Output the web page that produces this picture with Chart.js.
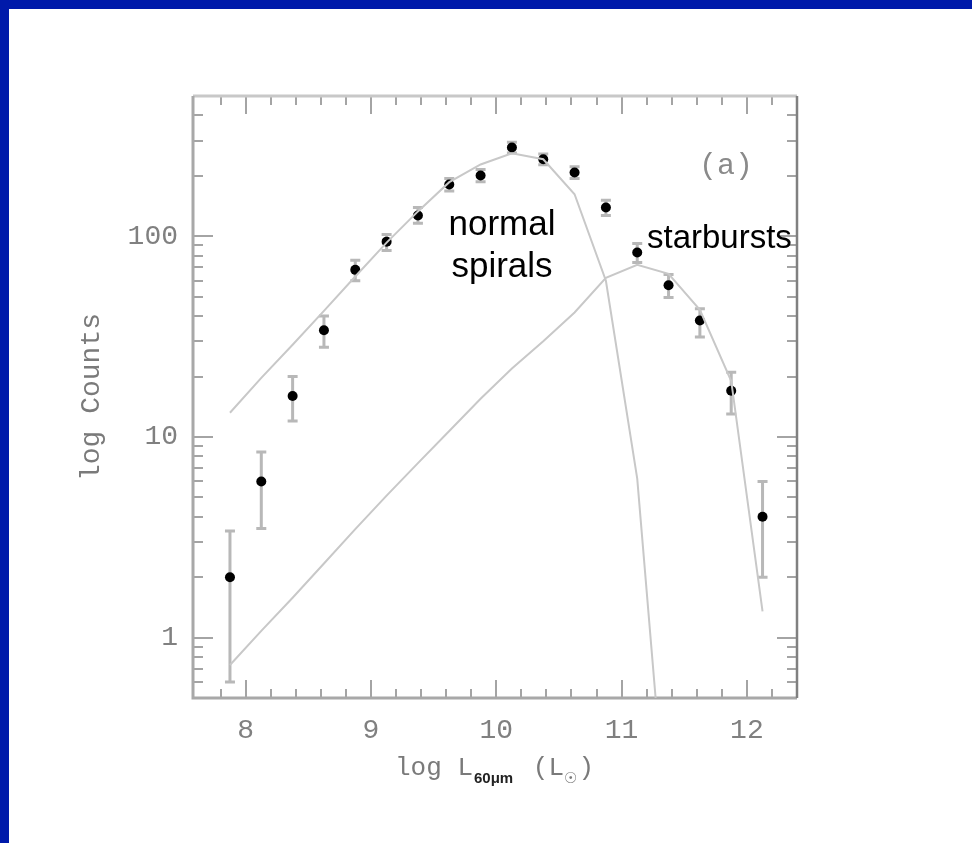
<!DOCTYPE html>
<html>
<head>
<meta charset="utf-8">
<script src="https://cdn.jsdelivr.net/npm/chart.js@4.4.1/dist/chart.umd.min.js"></script>
<style>
  html, body { margin: 0; padding: 0; background: rgb(0, 26, 170); width: 972px; height: 843px; overflow: hidden; }
  #wrap { position: absolute; left: 9px; top: 9px; width: 963px; height: 834px; background: #ffffff; }
  canvas { display: block; }
</style>
</head>
<body>
<div id="wrap"><canvas id="c"></canvas></div>
<script>
// ---- data ----
const binX      = [7.875, 8.125, 8.375, 8.625, 8.875, 9.125, 9.375, 9.625, 9.875, 10.125, 10.375, 10.625, 10.875, 11.125, 11.375, 11.625, 11.875, 12.125];
const counts    = [2, 6, 16, 34, 68, 94, 127, 181, 201, 277, 242, 208, 139, 83, 57, 38, 17, 4];
const errLow    = [1.4, 2.5, 4, 6, 8, 9, 11, 13, 14, 17, 15, 14, 12, 9, 7.5, 6.5, 4, 2];
const errHigh   = [1.4, 2.4, 4, 6, 8, 8, 12, 13, 14, 17, 15, 14, 12, 9, 7.5, 5.5, 4, 2];

const normalX   = [7.875, 8.125, 8.375, 8.625, 8.875, 9.125, 9.375, 9.625, 9.875, 10.125, 10.375, 10.625, 10.875, 11.125, 11.375];
const normalY   = [13.2, 19.7, 28.8, 42.5, 63, 93, 133, 186, 228, 259, 242, 162, 60, 6.2, 0.085];
const starX     = [7.875, 8.125, 8.375, 8.625, 8.875, 9.125, 9.375, 9.625, 9.875, 10.125, 10.375, 10.625, 10.875, 11.125, 11.375, 11.625, 11.875, 12.125];
const starY     = [0.73, 1.08, 1.58, 2.34, 3.47, 5.1, 7.4, 10.7, 15.5, 21.9, 30, 41.7, 62, 72, 65, 43, 19, 1.35];

const xMajorTicks = [8, 9, 10, 11, 12];
const xMinorTicks = [7.8, 8.2, 8.4, 8.6, 8.8, 9.2, 9.4, 9.6, 9.8, 10.2, 10.4, 10.6, 10.8, 11.2, 11.4, 11.6, 11.8, 12.2];
const yMajorTicks = [1, 10, 100];
const yMinorTicks = [0.6, 0.7, 0.8, 0.9, 2, 3, 4, 5, 6, 7, 8, 9, 20, 30, 40, 50, 60, 70, 80, 90, 200, 300, 400];

const xTitleMain = 'log L';
const xTitleSub = '60\u03bcm';
const xTitleTail = ' (L';
const xTitleSun = '\u2609';
const yTitle = 'log Counts';
const panelLabel = '(a)';
const normalLabel = ['normal', 'spirals'];
const starLabel = 'starbursts';

// ---- chart ----
const pts = (xs, ys) => xs.map((x, i) => ({ x: x, y: ys[i] }));
const MONO = '"Liberation Mono", "DejaVu Sans Mono", monospace';
const SANS = '"Liberation Sans", Arial, sans-serif';

const framePlugin = {
  id: 'frameTicks',
  beforeDatasetsDraw(chart) {
    const { ctx, chartArea: a, scales: { x, y } } = chart;
    ctx.save();
    // error bars
    ctx.strokeStyle = '#b8b8b8';
    ctx.lineWidth = 3;
    binX.forEach((bx, i) => {
      const px = x.getPixelForValue(bx);
      const top = y.getPixelForValue(counts[i] + errHigh[i]);
      const bot = y.getPixelForValue(counts[i] - errLow[i]);
      ctx.beginPath();
      ctx.moveTo(px, top); ctx.lineTo(px, bot);
      ctx.moveTo(px - 5, top); ctx.lineTo(px + 5, top);
      ctx.moveTo(px - 5, bot); ctx.lineTo(px + 5, bot);
      ctx.stroke();
    });
    // ticks
    ctx.strokeStyle = '#a4a4a4';
    ctx.lineWidth = 2;
    const xt = (vals, len) => vals.forEach(v => {
      const p = Math.round(x.getPixelForValue(v));
      ctx.beginPath();
      ctx.moveTo(p, a.bottom); ctx.lineTo(p, a.bottom - len);
      ctx.moveTo(p, a.top); ctx.lineTo(p, a.top + len);
      ctx.stroke();
    });
    const yt = (vals, len) => vals.forEach(v => {
      const p = Math.round(y.getPixelForValue(v));
      ctx.beginPath();
      ctx.moveTo(a.left, p); ctx.lineTo(a.left + len, p);
      ctx.moveTo(a.right, p); ctx.lineTo(a.right - len, p);
      ctx.stroke();
    });
    xt(xMajorTicks, 18); xt(xMinorTicks, 9);
    yt(yMajorTicks, 20); yt(yMinorTicks, 10);
    // frame
    ctx.lineWidth = 3;
    ctx.strokeStyle = '#c8c8c8';
    ctx.beginPath(); ctx.moveTo(a.left, a.top); ctx.lineTo(a.right, a.top); ctx.stroke();
    ctx.strokeStyle = '#a8a8a8';
    ctx.beginPath(); ctx.moveTo(a.left, a.top); ctx.lineTo(a.left, a.bottom); ctx.lineTo(a.right, a.bottom); ctx.stroke();
    ctx.strokeStyle = '#808080';
    ctx.lineWidth = 2.5;
    ctx.beginPath(); ctx.moveTo(a.right, a.top); ctx.lineTo(a.right, a.bottom); ctx.stroke();
    ctx.restore();
  },
  afterDraw(chart) {
    const { ctx, chartArea: a } = chart;
    ctx.save();
    // panel label
    ctx.fillStyle = '#8a8a8a';
    ctx.font = '30px ' + MONO;
    ctx.textAlign = 'center';
    ctx.textBaseline = 'middle';
    ctx.fillText(panelLabel, a.left + 533, a.top + 70);
    // curve labels
    ctx.fillStyle = '#000000';
    ctx.font = '35px ' + SANS;
    ctx.textBaseline = 'alphabetic';
    ctx.fillText(normalLabel[0], a.left + 309, a.top + 139);
    ctx.fillText(normalLabel[1], a.left + 309, a.top + 181);
    ctx.textAlign = 'left';
    ctx.font = '33px ' + SANS;
    ctx.fillText(starLabel, a.left + 454, a.top + 152);
    // x title with subscripts
    let cx = a.left + 202;
    const base = a.bottom + 77;
    ctx.fillStyle = '#7a7a7a';
    ctx.font = '26px ' + MONO;
    ctx.fillText(xTitleMain, cx, base);
    cx += ctx.measureText(xTitleMain).width + 1;
    ctx.fillStyle = '#222222';
    ctx.font = 'bold 15px ' + SANS;
    ctx.fillText(xTitleSub, cx, base + 8);
    cx += ctx.measureText(xTitleSub).width + 4;
    ctx.fillStyle = '#7a7a7a';
    ctx.font = '26px ' + MONO;
    ctx.fillText(xTitleTail, cx, base);
    cx += ctx.measureText(xTitleTail).width;
    ctx.font = '15px "DejaVu Sans", sans-serif';
    ctx.fillText(xTitleSun, cx, base + 8);
    cx += ctx.measureText(xTitleSun).width + 1;
    ctx.font = '26px ' + MONO;
    ctx.fillText(')', cx, base);
    ctx.restore();
  }
};

new Chart(document.getElementById('c'), {
  type: 'scatter',
  data: {
    datasets: [
      {
        type: 'line', label: 'normal spirals', data: pts(normalX, normalY),
        borderColor: '#c8c8c8', borderWidth: 2, pointRadius: 0, fill: false, tension: 0
      },
      {
        type: 'line', label: 'starbursts', data: pts(starX, starY),
        borderColor: '#c8c8c8', borderWidth: 2, pointRadius: 0, fill: false, tension: 0
      },
      {
        type: 'scatter', label: 'counts', data: pts(binX, counts),
        backgroundColor: '#000000', borderColor: '#000000', pointRadius: 5, pointBorderWidth: 0, showLine: false
      }
    ]
  },
  options: {
    responsive: true,
    maintainAspectRatio: false,
    animation: false,
    devicePixelRatio: 1,
    layout: { padding: { top: 87, right: 175, bottom: 0, left: 0 } },
    plugins: { legend: { display: false }, tooltip: { enabled: false }, title: { display: false } },
    scales: {
      x: {
        type: 'linear', min: 7.58, max: 12.4,
        grid: { display: false, drawTicks: false },
        border: { display: false },
        afterBuildTicks: s => { s.ticks = xMajorTicks.map(v => ({ value: v })); },
        afterFit: s => { s.height = 145; },
        ticks: {
          autoSkip: false, maxRotation: 0, padding: 16, color: '#808080',
          font: { family: MONO, size: 28 },
          callback: v => String(v)
        },
        title: { display: false }
      },
      y: {
        type: 'logarithmic', min: 0.5, max: 500,
        grid: { display: false, drawTicks: false },
        border: { display: false },
        afterBuildTicks: s => { s.ticks = yMajorTicks.map(v => ({ value: v })); },
        afterFit: s => { s.width = 184; },
        ticks: {
          autoSkip: false, padding: 15, color: '#808080',
          font: { family: MONO, size: 28 },
          callback: v => String(v)
        },
        title: {
          display: true, text: yTitle, color: '#7a7a7a',
          font: { family: MONO, size: 28 },
          padding: { top: 66, bottom: 0 }
        }
      }
    }
  },
  plugins: [framePlugin]
});
</script>
</body>
</html>
